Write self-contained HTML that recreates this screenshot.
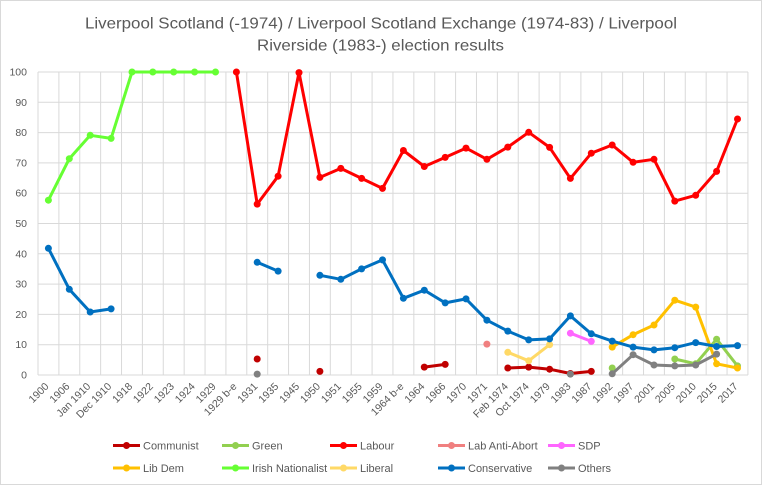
<!DOCTYPE html>
<html><head><meta charset="utf-8"><style>
html,body{margin:0;padding:0;background:#fff;}
svg{display:block;font-family:"Liberation Sans",Arial,sans-serif;}
.ax{font-size:10.5px;fill:#595959;}
.lg{font-size:11px;fill:#595959;}
.ln{fill:none;stroke-width:3;stroke-linejoin:round;stroke-linecap:round;}
</style></head><body>
<svg width="763" height="486" viewBox="0 0 763 486" xmlns="http://www.w3.org/2000/svg">
<rect x="0" y="0" width="763" height="486" fill="#fff"/>
<rect x="0.5" y="0.5" width="761" height="484" fill="none" stroke="#d9d9d9" stroke-width="1"/>

<text x="85" y="28.5" font-size="16" fill="#595959" textLength="592" lengthAdjust="spacingAndGlyphs">Liverpool Scotland (-1974) / Liverpool Scotland Exchange (1974-83) / Liverpool</text>
<text x="257" y="50.5" font-size="16" fill="#595959" textLength="247" lengthAdjust="spacingAndGlyphs">Riverside (1983-) election results</text>

<g stroke="#d9d9d9" stroke-width="1">
<line x1="38" y1="72" x2="748" y2="72"/>
<line x1="38" y1="102.3" x2="748" y2="102.3"/>
<line x1="38" y1="132.6" x2="748" y2="132.6"/>
<line x1="38" y1="162.9" x2="748" y2="162.9"/>
<line x1="38" y1="193.2" x2="748" y2="193.2"/>
<line x1="38" y1="223.5" x2="748" y2="223.5"/>
<line x1="38" y1="253.8" x2="748" y2="253.8"/>
<line x1="38" y1="284.1" x2="748" y2="284.1"/>
<line x1="38" y1="314.4" x2="748" y2="314.4"/>
<line x1="38" y1="344.7" x2="748" y2="344.7"/>
<line x1="38" y1="375" x2="748" y2="375"/>
<line x1="38" y1="72" x2="38" y2="375"/>
<line x1="58.88" y1="72" x2="58.88" y2="375"/>
<line x1="79.76" y1="72" x2="79.76" y2="375"/>
<line x1="100.64" y1="72" x2="100.64" y2="375"/>
<line x1="121.52" y1="72" x2="121.52" y2="375"/>
<line x1="142.4" y1="72" x2="142.4" y2="375"/>
<line x1="163.28" y1="72" x2="163.28" y2="375"/>
<line x1="184.16" y1="72" x2="184.16" y2="375"/>
<line x1="205.04" y1="72" x2="205.04" y2="375"/>
<line x1="225.92" y1="72" x2="225.92" y2="375"/>
<line x1="246.8" y1="72" x2="246.8" y2="375"/>
<line x1="267.68" y1="72" x2="267.68" y2="375"/>
<line x1="288.56" y1="72" x2="288.56" y2="375"/>
<line x1="309.44" y1="72" x2="309.44" y2="375"/>
<line x1="330.32" y1="72" x2="330.32" y2="375"/>
<line x1="351.2" y1="72" x2="351.2" y2="375"/>
<line x1="372.08" y1="72" x2="372.08" y2="375"/>
<line x1="392.96" y1="72" x2="392.96" y2="375"/>
<line x1="413.84" y1="72" x2="413.84" y2="375"/>
<line x1="434.72" y1="72" x2="434.72" y2="375"/>
<line x1="455.6" y1="72" x2="455.6" y2="375"/>
<line x1="476.48" y1="72" x2="476.48" y2="375"/>
<line x1="497.36" y1="72" x2="497.36" y2="375"/>
<line x1="518.24" y1="72" x2="518.24" y2="375"/>
<line x1="539.12" y1="72" x2="539.12" y2="375"/>
<line x1="560" y1="72" x2="560" y2="375"/>
<line x1="580.88" y1="72" x2="580.88" y2="375"/>
<line x1="601.76" y1="72" x2="601.76" y2="375"/>
<line x1="622.64" y1="72" x2="622.64" y2="375"/>
<line x1="643.52" y1="72" x2="643.52" y2="375"/>
<line x1="664.4" y1="72" x2="664.4" y2="375"/>
<line x1="685.28" y1="72" x2="685.28" y2="375"/>
<line x1="706.16" y1="72" x2="706.16" y2="375"/>
<line x1="727.04" y1="72" x2="727.04" y2="375"/>
<line x1="747.92" y1="72" x2="747.92" y2="375"/>
</g>

<g class="ax" text-anchor="end">
<text x="27" y="75.5">100</text>
<text x="27" y="105.8">90</text>
<text x="27" y="136.1">80</text>
<text x="27" y="166.4">70</text>
<text x="27" y="196.7">60</text>
<text x="27" y="227">50</text>
<text x="27" y="257.3">40</text>
<text x="27" y="287.6">30</text>
<text x="27" y="317.9">20</text>
<text x="27" y="348.2">10</text>
<text x="27" y="378.5">0</text>
</g>

<g class="ax" text-anchor="end">
<text transform="translate(49.4,387) rotate(-45)">1900</text>
<text transform="translate(70.3,387) rotate(-45)">1906</text>
<text transform="translate(91.2,387) rotate(-45)">Jan 1910</text>
<text transform="translate(112.1,387) rotate(-45)">Dec 1910</text>
<text transform="translate(133,387) rotate(-45)">1918</text>
<text transform="translate(153.8,387) rotate(-45)">1922</text>
<text transform="translate(174.7,387) rotate(-45)">1923</text>
<text transform="translate(195.6,387) rotate(-45)">1924</text>
<text transform="translate(216.5,387) rotate(-45)">1929</text>
<text transform="translate(237.4,387) rotate(-45)">1929 b-e</text>
<text transform="translate(258.2,387) rotate(-45)">1931</text>
<text transform="translate(279.1,387) rotate(-45)">1935</text>
<text transform="translate(300,387) rotate(-45)">1945</text>
<text transform="translate(320.9,387) rotate(-45)">1950</text>
<text transform="translate(341.8,387) rotate(-45)">1951</text>
<text transform="translate(362.6,387) rotate(-45)">1955</text>
<text transform="translate(383.5,387) rotate(-45)">1959</text>
<text transform="translate(404.4,387) rotate(-45)">1964 b-e</text>
<text transform="translate(425.3,387) rotate(-45)">1964</text>
<text transform="translate(446.2,387) rotate(-45)">1966</text>
<text transform="translate(467,387) rotate(-45)">1970</text>
<text transform="translate(487.9,387) rotate(-45)">1971</text>
<text transform="translate(508.8,387) rotate(-45)">Feb 1974</text>
<text transform="translate(529.7,387) rotate(-45)">Oct 1974</text>
<text transform="translate(550.6,387) rotate(-45)">1979</text>
<text transform="translate(571.4,387) rotate(-45)">1983</text>
<text transform="translate(592.3,387) rotate(-45)">1987</text>
<text transform="translate(613.2,387) rotate(-45)">1992</text>
<text transform="translate(634.1,387) rotate(-45)">1997</text>
<text transform="translate(655,387) rotate(-45)">2001</text>
<text transform="translate(675.8,387) rotate(-45)">2005</text>
<text transform="translate(696.7,387) rotate(-45)">2010</text>
<text transform="translate(717.6,387) rotate(-45)">2015</text>
<text transform="translate(738.5,387) rotate(-45)">2017</text>
</g>

<!-- Communist -->
<g fill="#c00000">
<polyline class="ln" stroke="#c00000" points="424.3,367.1 445.2,364.4"/>
<polyline class="ln" stroke="#c00000" points="507.8,368 528.7,367.1 549.6,369.2 570.4,373.5 591.3,371.4"/>
<circle cx="257.2" cy="359" r="3.5"/><circle cx="319.9" cy="371.4" r="3.5"/>
<circle cx="424.3" cy="367.1" r="3.5"/><circle cx="445.2" cy="364.4" r="3.5"/>
<circle cx="507.8" cy="368" r="3.5"/><circle cx="528.7" cy="367.1" r="3.5"/><circle cx="549.6" cy="369.2" r="3.5"/><circle cx="570.4" cy="373.5" r="3.5"/><circle cx="591.3" cy="371.4" r="3.5"/>
</g>
<!-- Green -->
<g fill="#92d050">
<polyline class="ln" stroke="#92d050" points="674.8,359 695.7,363.8 716.6,339.2 737.5,365.9"/>
<circle cx="612.2" cy="368" r="3.5"/>
<circle cx="674.8" cy="359" r="3.5"/><circle cx="695.7" cy="363.8" r="3.5"/><circle cx="716.6" cy="339.2" r="3.5"/><circle cx="737.5" cy="365.9" r="3.5"/>
</g>
<!-- Labour -->
<g fill="#ff0000">
<polyline class="ln" stroke="#ff0000" points="236.4,72 257.2,204.1 278.1,176.2 299,72.6 319.9,177.4 340.8,168.4 361.6,178.4 382.5,188.4 403.4,150.5 424.3,166.5 445.2,157.4 466,148.1 486.9,159.3 507.8,147.1 528.7,132.3 549.6,147.4 570.4,178.4 591.3,153.2 612.2,145 633.1,162.3 654,159.3 674.8,201.1 695.7,195.3 716.6,171.4 737.5,119"/>
<circle cx="236.4" cy="72" r="3.5"/><circle cx="257.2" cy="204.1" r="3.5"/><circle cx="278.1" cy="176.2" r="3.5"/><circle cx="299" cy="72.6" r="3.5"/><circle cx="319.9" cy="177.4" r="3.5"/><circle cx="340.8" cy="168.4" r="3.5"/><circle cx="361.6" cy="178.4" r="3.5"/><circle cx="382.5" cy="188.4" r="3.5"/><circle cx="403.4" cy="150.5" r="3.5"/><circle cx="424.3" cy="166.5" r="3.5"/><circle cx="445.2" cy="157.4" r="3.5"/><circle cx="466" cy="148.1" r="3.5"/><circle cx="486.9" cy="159.3" r="3.5"/><circle cx="507.8" cy="147.1" r="3.5"/><circle cx="528.7" cy="132.3" r="3.5"/><circle cx="549.6" cy="147.4" r="3.5"/><circle cx="570.4" cy="178.4" r="3.5"/><circle cx="591.3" cy="153.2" r="3.5"/><circle cx="612.2" cy="145" r="3.5"/><circle cx="633.1" cy="162.3" r="3.5"/><circle cx="654" cy="159.3" r="3.5"/><circle cx="674.8" cy="201.1" r="3.5"/><circle cx="695.7" cy="195.3" r="3.5"/><circle cx="716.6" cy="171.4" r="3.5"/><circle cx="737.5" cy="119" r="3.5"/>
</g>
<!-- Lab Anti-Abort -->
<circle cx="486.9" cy="344.1" r="3.5" fill="#f08080"/>
<!-- SDP -->
<g fill="#ff66ff">
<polyline class="ln" stroke="#ff66ff" points="570.4,333.2 591.3,341.4"/>
<circle cx="570.4" cy="333.2" r="3.5"/><circle cx="591.3" cy="341.4" r="3.5"/>
</g>
<!-- Lib Dem -->
<g fill="#ffc000">
<polyline class="ln" stroke="#ffc000" points="612.2,347.1 633.1,334.7 654,325 674.8,300.2 695.7,307.1 716.6,363.8 737.5,368"/>
<circle cx="612.2" cy="347.1" r="3.5"/><circle cx="633.1" cy="334.7" r="3.5"/><circle cx="654" cy="325" r="3.5"/><circle cx="674.8" cy="300.2" r="3.5"/><circle cx="695.7" cy="307.1" r="3.5"/><circle cx="716.6" cy="363.8" r="3.5"/><circle cx="737.5" cy="368" r="3.5"/>
</g>
<!-- Irish Nationalist -->
<g fill="#66ff33">
<polyline class="ln" stroke="#66ff33" points="48.4,200.2 69.3,158.7 90.2,135.3 111.1,138.4 132,72 152.8,72 173.7,72 194.6,72 215.5,72"/>
<circle cx="48.4" cy="200.2" r="3.5"/><circle cx="69.3" cy="158.7" r="3.5"/><circle cx="90.2" cy="135.3" r="3.5"/><circle cx="111.1" cy="138.4" r="3.5"/><circle cx="132" cy="72" r="3.5"/><circle cx="152.8" cy="72" r="3.5"/><circle cx="173.7" cy="72" r="3.5"/><circle cx="194.6" cy="72" r="3.5"/><circle cx="215.5" cy="72" r="3.5"/>
</g>
<!-- Liberal -->
<g fill="#ffd966">
<polyline class="ln" stroke="#ffd966" points="507.8,352.3 528.7,360.8 549.6,344.7"/>
<circle cx="507.8" cy="352.3" r="3.5"/><circle cx="528.7" cy="360.8" r="3.5"/><circle cx="549.6" cy="344.7" r="3.5"/>
</g>
<!-- Conservative -->
<g fill="#0070c0">
<polyline class="ln" stroke="#0070c0" points="48.4,248.3 69.3,289.3 90.2,312 111.1,308.9"/>
<polyline class="ln" stroke="#0070c0" points="257.2,262.3 278.1,271.1"/>
<polyline class="ln" stroke="#0070c0" points="319.9,275.3 340.8,279.3 361.6,268.9 382.5,259.9 403.4,298.3 424.3,290.2 445.2,302.9 466,298.9 486.9,320.2 507.8,331.1 528.7,339.9 549.6,338.9 570.4,315.9 591.3,333.8 612.2,341.1 633.1,347.1 654,349.9 674.8,347.7 695.7,342.6 716.6,346.5 737.5,345.6"/>
<circle cx="48.4" cy="248.3" r="3.5"/><circle cx="69.3" cy="289.3" r="3.5"/><circle cx="90.2" cy="312" r="3.5"/><circle cx="111.1" cy="308.9" r="3.5"/>
<circle cx="257.2" cy="262.3" r="3.5"/><circle cx="278.1" cy="271.1" r="3.5"/>
<circle cx="319.9" cy="275.3" r="3.5"/><circle cx="340.8" cy="279.3" r="3.5"/><circle cx="361.6" cy="268.9" r="3.5"/><circle cx="382.5" cy="259.9" r="3.5"/><circle cx="403.4" cy="298.3" r="3.5"/><circle cx="424.3" cy="290.2" r="3.5"/><circle cx="445.2" cy="302.9" r="3.5"/><circle cx="466" cy="298.9" r="3.5"/><circle cx="486.9" cy="320.2" r="3.5"/><circle cx="507.8" cy="331.1" r="3.5"/><circle cx="528.7" cy="339.9" r="3.5"/><circle cx="549.6" cy="338.9" r="3.5"/><circle cx="570.4" cy="315.9" r="3.5"/><circle cx="591.3" cy="333.8" r="3.5"/><circle cx="612.2" cy="341.1" r="3.5"/><circle cx="633.1" cy="347.1" r="3.5"/><circle cx="654" cy="349.9" r="3.5"/><circle cx="674.8" cy="347.7" r="3.5"/><circle cx="695.7" cy="342.6" r="3.5"/><circle cx="716.6" cy="346.5" r="3.5"/><circle cx="737.5" cy="345.6" r="3.5"/>
</g>
<!-- Others -->
<g fill="#808080">
<polyline class="ln" stroke="#808080" points="612.2,373.8 633.1,354.7 654,365 674.8,365.9 695.7,365 716.6,354.1"/>
<circle cx="257.2" cy="374.1" r="3.5"/><circle cx="570.4" cy="374.1" r="3.5"/>
<circle cx="612.2" cy="373.8" r="3.5"/><circle cx="633.1" cy="354.7" r="3.5"/><circle cx="654" cy="365" r="3.5"/><circle cx="674.8" cy="365.9" r="3.5"/><circle cx="695.7" cy="365" r="3.5"/><circle cx="716.6" cy="354.1" r="3.5"/>
</g>

<!-- Legend -->
<g stroke-width="3">
<line x1="113" y1="445.5" x2="140" y2="445.5" stroke="#c00000"/><circle cx="126.5" cy="445.5" r="3.5" fill="#c00000" stroke="none"/>
<line x1="222" y1="445.5" x2="249" y2="445.5" stroke="#92d050"/><circle cx="235.5" cy="445.5" r="3.5" fill="#92d050" stroke="none"/>
<line x1="330" y1="445.5" x2="357" y2="445.5" stroke="#ff0000"/><circle cx="343.5" cy="445.5" r="3.5" fill="#ff0000" stroke="none"/>
<line x1="438" y1="445.5" x2="465" y2="445.5" stroke="#f08080"/><circle cx="451.5" cy="445.5" r="3.5" fill="#f08080" stroke="none"/>
<line x1="548" y1="445.5" x2="575" y2="445.5" stroke="#ff66ff"/><circle cx="561.5" cy="445.5" r="3.5" fill="#ff66ff" stroke="none"/>
<line x1="113" y1="468" x2="140" y2="468" stroke="#ffc000"/><circle cx="126.5" cy="468" r="3.5" fill="#ffc000" stroke="none"/>
<line x1="222" y1="468" x2="249" y2="468" stroke="#66ff33"/><circle cx="235.5" cy="468" r="3.5" fill="#66ff33" stroke="none"/>
<line x1="330" y1="468" x2="357" y2="468" stroke="#ffd966"/><circle cx="343.5" cy="468" r="3.5" fill="#ffd966" stroke="none"/>
<line x1="438" y1="468" x2="465" y2="468" stroke="#0070c0"/><circle cx="451.5" cy="468" r="3.5" fill="#0070c0" stroke="none"/>
<line x1="548" y1="468" x2="575" y2="468" stroke="#808080"/><circle cx="561.5" cy="468" r="3.5" fill="#808080" stroke="none"/>
</g>
<g class="lg">
<text x="143" y="449.5">Communist</text>
<text x="252" y="449.5">Green</text>
<text x="360" y="449.5">Labour</text>
<text x="468" y="449.5">Lab Anti-Abort</text>
<text x="578" y="449.5">SDP</text>
<text x="143" y="472">Lib Dem</text>
<text x="252" y="472">Irish Nationalist</text>
<text x="360" y="472">Liberal</text>
<text x="468" y="472">Conservative</text>
<text x="578" y="472">Others</text>
</g>
</svg>
</body></html>
